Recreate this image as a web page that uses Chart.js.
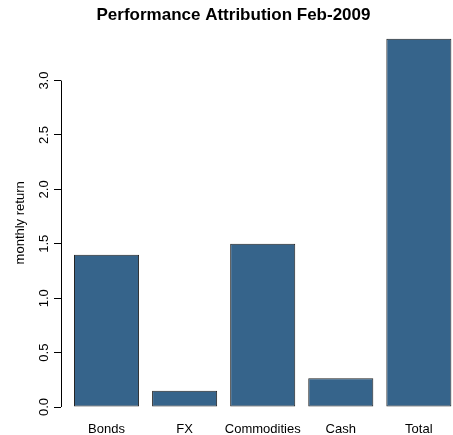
<!DOCTYPE html>
<html>
<head>
<meta charset="utf-8">
<script src="https://cdn.jsdelivr.net/npm/chart.js@4.4.1/dist/chart.umd.min.js"></script>
<style>
  html, body { margin: 0; padding: 0; background: #fff; overflow: hidden; }
  #wrap { width: 467px; height: 435px; }
</style>
</head>
<body>
<div id="wrap"><canvas id="attrChart"></canvas></div>
<script>
var categories = ['Bonds', 'FX', 'Commodities', 'Cash', 'Total'];
var returns = [1.40, 0.15, 1.50, 0.265, 3.385];
var yTicks = [0, 0.5, 1.0, 1.5, 2.0, 2.5, 3.0];

// barplot style spacing: bar width 1, gap 0.2
var space = 0.2;
function barCenter(i) {
	return space + 0.5 + i * (1 + space);
}

var points = [];
for (var i = 0; i < categories.length; i++) {
	points.push({ x: barCenter(i), y: returns[i] });
}

// y axis line only spans the tick range, like R
var axisLine = {
	id: 'axisLine',
	afterDraw: function(chart) {
		var y = chart.scales.y;
		var ctx = chart.ctx;
		var x = Math.round(chart.chartArea.left) + 0.5;
		ctx.save();
		ctx.strokeStyle = '#000';
		ctx.lineWidth = 1;
		ctx.beginPath();
		ctx.moveTo(x, y.getPixelForValue(yTicks[0]));
		ctx.lineTo(x, y.getPixelForValue(yTicks[yTicks.length - 1]));
		ctx.stroke();
		ctx.restore();
	}
};

var ctx = document.getElementById('attrChart');
var attrChart = new Chart(ctx, {
	type: 'bar',
	data: {
		datasets: [{
			data: points,
			backgroundColor: '#36648B',
			borderColor: '#222',
			borderWidth: 1,
			borderSkipped: false,
			categoryPercentage: 1,
			barPercentage: 1 / (1 + space)
		}]
	},
	options: {
		responsive: true,
		maintainAspectRatio: false,
		animation: false,
		layout: { padding: 0 },
		plugins: {
			legend: { display: false },
			tooltip: { enabled: false },
			title: {
				display: true,
				text: 'Performance Attribution Feb-2009',
				color: '#000',
				font: { family: 'Liberation Sans, Arial, sans-serif', size: 17, weight: 'bold', lineHeight: 1 },
				padding: { top: 7, bottom: 0 }
			}
		},
		scales: {
			x: {
				type: 'linear',
				offset: false,
				min: 0,
				max: 6.24,
				grid: { display: false, drawTicks: false, offset: false },
				border: { display: false },
				afterBuildTicks: function(scale) {
					scale.ticks = categories.map(function(c, i) { return { value: barCenter(i) }; });
				},
				afterFit: function(scale) { scale.height = 13.3; },
				ticks: {
					autoSkip: false,
					maxRotation: 0,
					padding: 0,
					color: '#000',
					font: { family: 'Liberation Sans, Arial, sans-serif', size: 13 },
					callback: function(value, index) { return categories[index]; }
				}
			},
			y: {
				min: -0.135,
				max: 3.52,
				afterBuildTicks: function(scale) {
					scale.ticks = yTicks.map(function(v) { return { value: v }; });
				},
				afterFit: function(scale) { scale.width = 61; },
				grid: { drawOnChartArea: false, drawTicks: true, tickLength: 7, color: '#000' },
				border: { display: false },
				ticks: {
					minRotation: 90,
					maxRotation: 90,
					crossAlign: 'center',
					padding: 1,
					color: '#000',
					font: { family: 'Liberation Sans, Arial, sans-serif', size: 13 },
					callback: function(value) { return value.toFixed(1); }
				},
				title: {
					display: true,
					text: 'monthly return',
					color: '#000',
					font: { family: 'Liberation Sans, Arial, sans-serif', size: 13 },
					padding: { top: 13, bottom: 0 }
				}
			}
		}
	},
	plugins: [axisLine]
});
</script>
</body>
</html>
